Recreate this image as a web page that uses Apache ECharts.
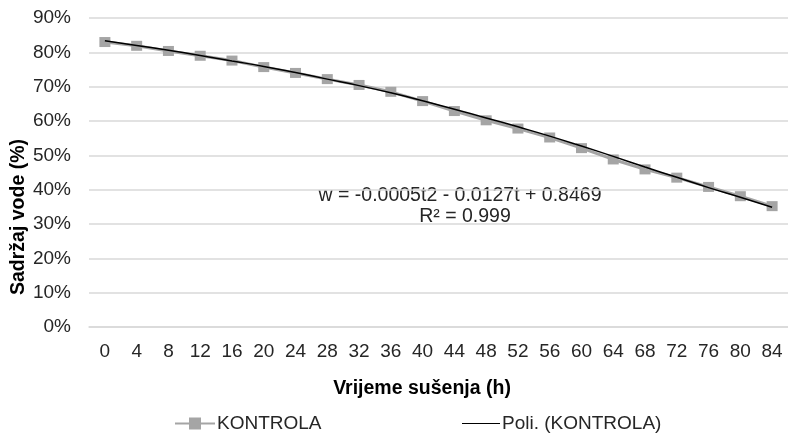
<!DOCTYPE html>
<html>
<head>
<meta charset="utf-8">
<script src="https://cdn.jsdelivr.net/npm/echarts@6/dist/echarts.min.js"></script>
<style>html,body{margin:0;padding:0;background:#fff}#c{width:788px;height:434px}</style>
</head>
<body>
<div id="c"></div>
<script>
const categories = ['0','4','8','12','16','20','24','28','32','36','40','44','48','52','56','60','64','68','72','76','80','84'];
const kontrola = [83.0, 81.9, 80.4, 79.0, 77.6, 75.7, 74.0, 72.2, 70.5, 68.5, 65.8, 62.9, 60.2, 57.8, 55.2, 52.1, 48.8, 45.9, 43.5, 40.8, 38.1, 35.2];
const poli = [83.4, 82.0, 80.6, 79.1, 77.5, 75.9, 74.1, 72.2, 70.3, 68.2, 65.9, 63.4, 60.9, 58.3, 55.6, 52.7, 49.7, 46.6, 43.6, 40.6, 37.8, 34.9];
const yTicks = [0, 10, 20, 30, 40, 50, 60, 70, 80, 90];
const equation = 'w = -0.0005t2 - 0.0127t + 0.8469';
const r2 = 'R² = 0.999';

const font = 'Liberation Sans, Arial, sans-serif';
const fs = 19;
const chart = echarts.init(document.getElementById('c'));
const legendText = { color: '#262626', fontSize: fs, fontFamily: font, padding: [0, 0, 0, -3] };
chart.setOption({
  animation: false,
  textStyle: { fontFamily: font },
  grid: { left: 89, right: -1, top: 18, bottom: 107, containLabel: false },
  xAxis: {
    type: 'category',
    data: categories,
    boundaryGap: true,
    axisLine: { show: true, lineStyle: { color: '#d9d9d9', width: 1.5 } },
    axisTick: { show: false },
    axisLabel: { color: '#262626', fontSize: fs, margin: 15, fontFamily: font }
  },
  yAxis: {
    type: 'value',
    min: yTicks[0],
    max: yTicks[yTicks.length - 1],
    interval: 10,
    axisLine: { show: false },
    axisTick: { show: false },
    splitLine: { lineStyle: { color: '#d9d9d9', width: 1.5 } },
    axisLabel: { color: '#262626', fontSize: fs, margin: 18, fontFamily: font, formatter: v => v + '%' }
  },
  legend: [
    {
      top: 409, left: 170, itemWidth: 40, itemHeight: 12, itemGap: 0,
      textStyle: legendText,
      data: [{ name: 'KONTROLA', icon: 'path://M0,5 L14,5 L14,0 L26,0 L26,5 L40,5 L40,7 L26,7 L26,12 L14,12 L14,7 L0,7 Z', itemStyle: { color: '#a5a5a5' } }]
    },
    {
      top: 409, left: 457, itemWidth: 38, itemHeight: 12, itemGap: 0,
      textStyle: legendText,
      data: [{ name: 'Poli. (KONTROLA)', icon: 'path://M0,5.5 L40,5.5 L40,6.5 L0,6.5 Z', itemStyle: { color: '#000' } }]
    }
  ],
  series: [
    {
      name: 'KONTROLA',
      type: 'line',
      data: kontrola,
      symbol: 'rect',
      symbolSize: [11, 10],
      lineStyle: { color: '#a5a5a5', width: 3 },
      itemStyle: { color: '#a5a5a5' },
      z: 2
    },
    {
      name: 'Poli. (KONTROLA)',
      type: 'line',
      data: poli,
      smooth: true,
      symbol: 'none',
      lineStyle: { color: '#000', width: 1.5 },
      itemStyle: { color: '#000' },
      z: 3
    }
  ],
  graphic: [
    { type: 'text', x: 460, y: 196, style: { text: equation, font: '19.5px ' + font, fill: '#262626', textAlign: 'center', textVerticalAlign: 'middle' } },
    { type: 'text', x: 465, y: 217, style: { text: r2, font: '19.5px ' + font, fill: '#262626', textAlign: 'center', textVerticalAlign: 'middle' } },
    { type: 'text', x: 422, y: 389, style: { text: 'Vrijeme sušenja (h)', font: 'bold 19.5px ' + font, fill: '#000', textAlign: 'center', textVerticalAlign: 'middle' } },
    { type: 'text', x: 19, y: 217, rotation: Math.PI / 2, style: { text: 'Sadržaj vode (%)', font: 'bold 19.5px ' + font, fill: '#000', textAlign: 'center', textVerticalAlign: 'middle' } }
  ]
});
</script>
</body>
</html>
